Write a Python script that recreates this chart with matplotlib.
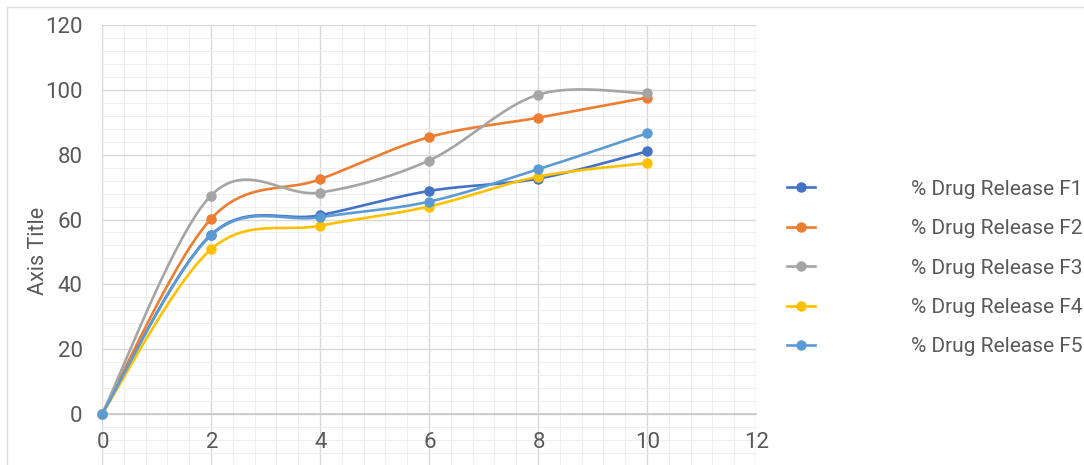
import numpy as np
import matplotlib
matplotlib.use("Agg")
import matplotlib.pyplot as plt
from matplotlib.ticker import MultipleLocator, FixedLocator
from matplotlib.lines import Line2D
from matplotlib.patches import Rectangle

plt.rcParams['font.family'] = ['Roboto', 'DejaVu Sans']

time_h = [0, 2, 4, 6, 8, 10]
f1 = [0, 55.3, 61.3, 68.8, 72.6, 81.0]
f2 = [0, 60.2, 72.4, 85.4, 91.4, 97.6]
f3 = [0, 67.4, 68.3, 78.2, 98.5, 98.9]
f4 = [0, 50.8, 58.1, 64.0, 73.2, 77.4]
f5 = [0, 55.1, 60.7, 65.5, 75.5, 86.6]
series_names = ['% Drug Release F1', '% Drug Release F2', '% Drug Release F3',
                '% Drug Release F4', '% Drug Release F5']
series_values = [f1, f2, f3, f4, f5]
colors = ['#4472C4', '#ED7D31', '#A5A5A5', '#FFC000', '#5B9BD5']

x_ticks = [0, 2, 4, 6, 8, 10, 12]
y_ticks = [0, 20, 40, 60, 80, 100, 120]


def smooth(xs, ys, n=40):
    """Excel-like smoothed line: Catmull-Rom style cubic Bezier segments."""
    P = np.column_stack([xs, ys]).astype(float)
    m = len(P)
    out = []
    for i in range(m - 1):
        p0 = P[i - 1] if i > 0 else P[i]
        p1 = P[i]
        p2 = P[i + 1]
        p3 = P[i + 2] if i + 2 < m else P[i + 1]
        c1 = p1 + (p2 - p0) / 6.0
        c2 = p2 - (p3 - p1) / 6.0
        t = np.linspace(0, 1, n)[:, None]
        seg = ((1 - t) ** 3) * p1 + 3 * ((1 - t) ** 2) * t * c1 + 3 * (1 - t) * t ** 2 * c2 + t ** 3 * p2
        if i > 0:
            seg = seg[1:]
        out.append(seg)
    out = np.vstack(out)
    return out[:, 0], out[:, 1]


W, H = 1084, 465
fig = plt.figure(figsize=(W / 100, H / 100), dpi=100)
fig.patch.set_facecolor('white')

# outer chart border
fig.add_artist(Rectangle((7 / W, -0.1), 1.2, (H - 7) / H + 0.1, transform=fig.transFigure,
                         fill=False, edgecolor='#dcdcdc', linewidth=1.0))

ax = fig.add_axes([102 / W, 0.0, (756 - 102) / W, (465 - 25) / H])
ax.set_xlim(0, 12)
ax.set_ylim(-15.73, 120)

ax.xaxis.set_major_locator(FixedLocator(x_ticks))
ax.xaxis.set_minor_locator(MultipleLocator(0.4))
ax.yaxis.set_major_locator(FixedLocator(y_ticks))
ax.yaxis.set_minor_locator(MultipleLocator(4))

ax.grid(which='major', color='#d9d9d9', linewidth=1.0, zorder=0)
ax.grid(which='minor', color='#eeeeee', linewidth=0.8, zorder=0)
ax.set_axisbelow(True)

for s in ['top', 'right', 'left']:
    ax.spines[s].set_visible(False)
ax.spines['bottom'].set_position(('data', 0))
ax.spines['bottom'].set_color('#c8c8c8')
ax.spines['bottom'].set_linewidth(1.2)

ax.tick_params(axis='both', which='both', length=0)
ax.tick_params(axis='x', labelbottom=False)
ax.tick_params(axis='y', pad=14, labelsize=16, labelcolor='#595959')
ax.set_yticklabels([str(v) for v in y_ticks])

# x tick labels drawn above the grid, just under the zero line
for v in x_ticks:
    ax.annotate(str(v), xy=(v, 0), xycoords='data', xytext=(0.8, -13), textcoords='offset points',
                ha='center', va='top', fontsize=16, color='#595959', zorder=6,
                annotation_clip=False)

handles = []
for name, vals, c in zip(series_names, series_values, colors):
    sx, sy = smooth(time_h, vals)
    ax.plot(sx, sy, color=c, linewidth=1.9, solid_capstyle='round', zorder=3, clip_on=False)
    ax.plot(time_h, vals, linestyle='none', marker='o', markersize=6.5, color=c, zorder=4, clip_on=False)
    handles.append(Line2D([0], [0], color=c, linewidth=1.9, marker='o', markersize=6.5))

fig.text(38 / W, 1 - 251 / H, 'Axis Title', rotation=90, ha='center', va='center',
         fontsize=15.5, color='#595959')

fig.legend(handles, series_names, loc='center left', bbox_to_anchor=(787 / W, 1 - 268 / H),
           frameon=False, fontsize=15, labelcolor='#595959', handlelength=1.35,
           handletextpad=4.6, labelspacing=0.98, borderaxespad=0, borderpad=0)

fig.savefig('out.png', dpi=100, facecolor='white')
